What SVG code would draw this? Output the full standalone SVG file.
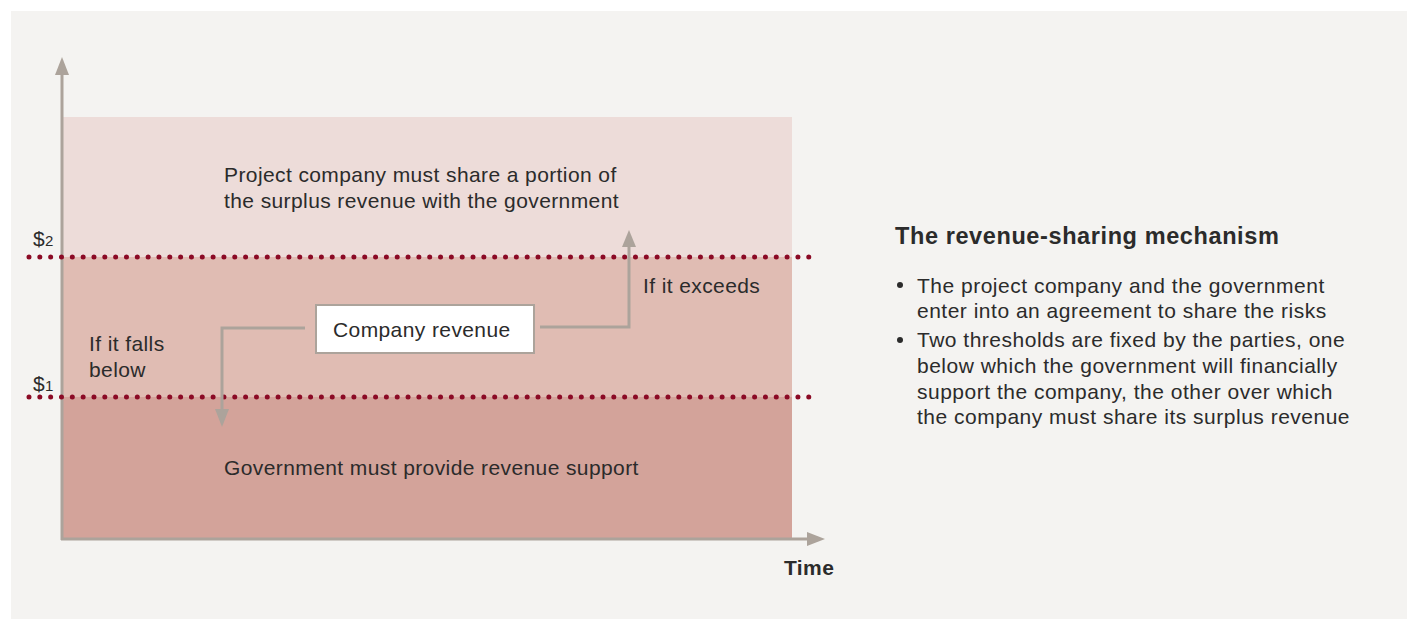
<svg xmlns="http://www.w3.org/2000/svg" width="1407" height="620" viewBox="0 0 1407 620">
<style>
text{font-family:"Liberation Sans",Arial,sans-serif;fill:#2b2b2b}
.t{font-size:21px;letter-spacing:0.4px}
.b{font-size:21px;letter-spacing:0.5px}
.axis{stroke:#aca39b;stroke-width:3;fill:none}
.conn{stroke:#aca39b;stroke-width:3;fill:none}
.dot{stroke:#8b0a25;stroke-width:5;stroke-linecap:round;stroke-dasharray:0 10.83;fill:none}
</style>
<rect x="0" y="0" width="1407" height="620" fill="#ffffff"/>
<rect x="11" y="11" width="1396" height="608" fill="#f4f3f1"/>
<g id="bands">
<rect x="62" y="117" width="730" height="140" fill="#eddcd9"/>
<rect x="62" y="257" width="730" height="140" fill="#e0bcb3"/>
<rect x="62" y="397" width="730" height="142" fill="#d3a39a"/>
</g>
<g id="axes">
<path class="axis" d="M62,540 L62,74"/>
<path d="M55,75 L62,57 L69,75 Z" fill="#aca39b"/>
<path class="axis" d="M61,539 L808,539"/>
<path d="M807,532 L825,539 L807,546 Z" fill="#aca39b"/>
</g>
<g id="thresholds">
<line class="dot" x1="29" y1="257" x2="812" y2="257"/>
<line class="dot" x1="29" y1="397" x2="812" y2="397"/>
<text class="t" x="33" y="246">$<tspan font-size="15">2</tspan></text>
<text class="t" x="33" y="391">$<tspan font-size="15">1</tspan></text>
</g>
<g id="connectors">
<path class="conn" d="M305,328 L222,328 L222,410"/>
<path d="M215,409 L222,427 L229,409 Z" fill="#aca39b"/>
<path class="conn" d="M540,327 L629,327 L629,246"/>
<path d="M622,247 L629,230 L636,247 Z" fill="#aca39b"/>
</g>
<g id="node-revenue">
<rect x="316" y="305" width="218" height="48" fill="#ffffff" stroke="#aca39b" stroke-width="2"/>
<text class="t" x="333" y="337">Company revenue</text>
</g>
<g id="labels">
<text class="t" x="224" y="182">Project company must share a portion of</text>
<text class="t" x="224" y="208">the surplus revenue with the government</text>
<text class="t" x="643" y="293">If it exceeds</text>
<text class="t" x="89" y="351">If it falls</text>
<text class="t" x="89" y="377">below</text>
<text class="t" x="224" y="475">Government must provide revenue support</text>
<text class="t" x="784" y="575" font-weight="bold" letter-spacing="0.2">Time</text>
</g>
<g id="legend">
<text x="895" y="244" font-size="23.5" font-weight="bold" letter-spacing="0.6">The revenue-sharing mechanism</text>
<circle cx="900" cy="285" r="3" fill="#2b2b2b"/>
<text class="b" x="917" y="293">The project company and the government</text>
<text class="b" x="917" y="318">enter into an agreement to share the risks</text>
<circle cx="900" cy="340" r="3" fill="#2b2b2b"/>
<text class="b" x="917" y="347">Two thresholds are fixed by the parties, one</text>
<text class="b" x="917" y="373">below which the government will financially</text>
<text class="b" x="917" y="399">support the company, the other over which</text>
<text class="b" x="917" y="424">the company must share its surplus revenue</text>
</g>
</svg>
